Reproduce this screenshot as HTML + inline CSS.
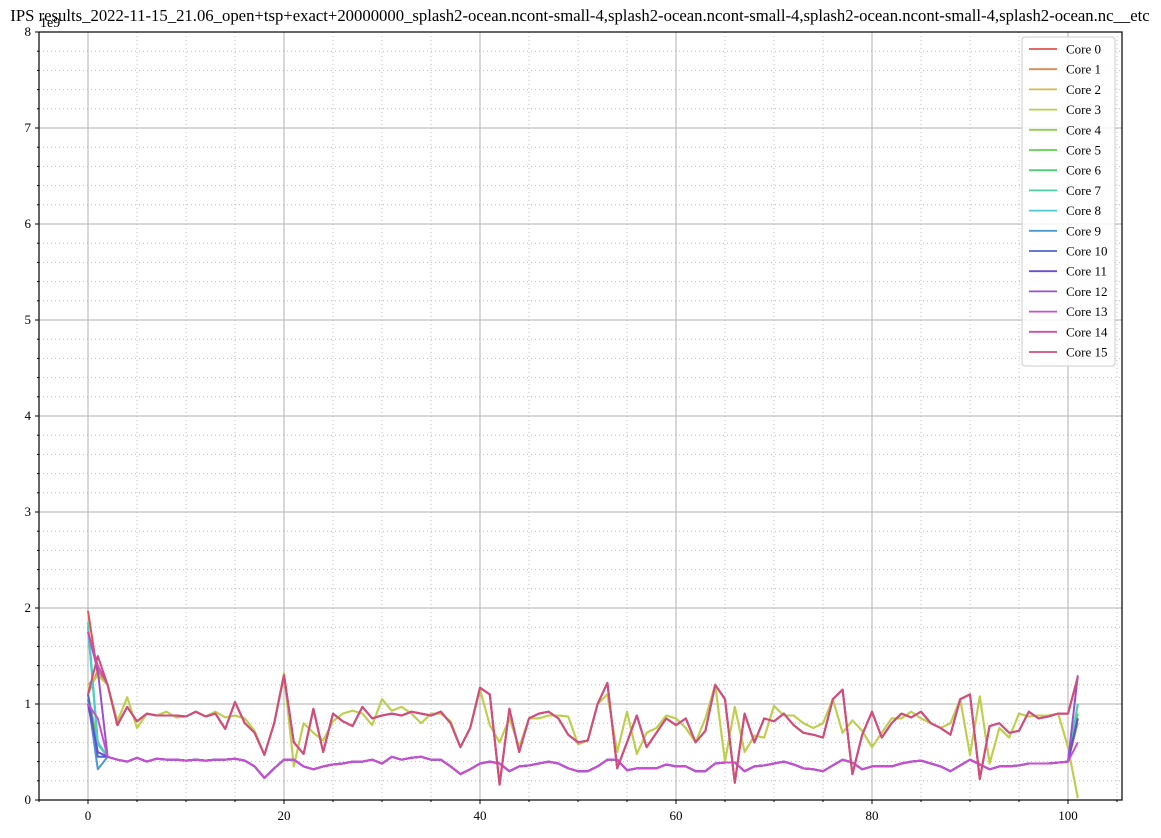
<!DOCTYPE html>
<html><head><meta charset="utf-8"><style>
body{margin:0;background:#fff;}
svg text{font-family:"Liberation Serif",serif;}
</style></head><body>
<svg id="chart" width="1161" height="833" xmlns="http://www.w3.org/2000/svg">
<rect width="1161" height="833" fill="#fff"/>
<text x="580" y="21" font-size="16.7" text-anchor="middle">IPS results_2022-11-15_21.06_open+tsp+exact+20000000_splash2-ocean.ncont-small-4,splash2-ocean.ncont-small-4,splash2-ocean.ncont-small-4,splash2-ocean.nc__etc</text>
<text x="40" y="27" font-size="14">1e9</text>
<g id="grid"></g><g id="series"></g><g id="axes"></g><g id="legend"></g>
</svg>
<script>
const xTicks=[0,20,40,60,80,100];
const yTicks=[0,1,2,3,4,5,6,7,8];
const coreNames=["Core 0","Core 1","Core 2","Core 3","Core 4","Core 5","Core 6","Core 7","Core 8","Core 9","Core 10","Core 11","Core 12","Core 13","Core 14","Core 15"];
const upperRed=[1.95,1.35,1.2,0.78,0.97,0.82,0.9,0.88,0.88,0.88,0.87,0.92,0.87,0.9,0.74,1.02,0.8,0.7,0.47,0.8,1.3,0.6,0.48,0.95,0.5,0.9,0.82,0.77,0.97,0.85,0.88,0.9,0.88,0.92,0.9,0.88,0.92,0.8,0.55,0.75,1.17,1.1,0.16,0.95,0.5,0.85,0.9,0.92,0.85,0.68,0.6,0.62,1.0,1.22,0.33,0.6,0.88,0.55,0.7,0.85,0.78,0.85,0.6,0.72,1.2,1.05,0.18,0.9,0.6,0.85,0.82,0.9,0.78,0.7,0.68,0.65,1.05,1.15,0.27,0.68,0.92,0.65,0.8,0.9,0.86,0.92,0.8,0.75,0.68,1.05,1.1,0.22,0.77,0.8,0.7,0.72,0.92,0.85,0.87,0.9,0.9,1.28];
const upperYellow=[1.2,1.3,1.2,0.82,1.07,0.75,0.9,0.88,0.92,0.86,0.87,0.92,0.87,0.92,0.86,0.88,0.85,0.72,0.47,0.8,1.32,0.35,0.8,0.7,0.62,0.82,0.9,0.93,0.9,0.78,1.05,0.93,0.97,0.9,0.8,0.9,0.9,0.82,0.55,0.75,1.15,0.78,0.6,0.85,0.55,0.85,0.85,0.88,0.88,0.87,0.58,0.62,1.0,1.1,0.5,0.92,0.48,0.7,0.75,0.88,0.85,0.75,0.6,0.85,1.2,0.4,0.97,0.5,0.67,0.65,0.98,0.88,0.88,0.8,0.75,0.8,1.05,0.7,0.83,0.72,0.55,0.7,0.85,0.85,0.92,0.85,0.8,0.75,0.8,1.05,0.47,1.08,0.38,0.75,0.65,0.9,0.87,0.88,0.88,0.9,0.55,0.02];
const lower=[1.0,0.55,0.45,0.42,0.4,0.44,0.4,0.43,0.42,0.42,0.41,0.42,0.41,0.42,0.42,0.43,0.41,0.35,0.23,0.33,0.42,0.42,0.35,0.32,0.35,0.37,0.38,0.4,0.4,0.42,0.38,0.45,0.42,0.44,0.45,0.42,0.42,0.35,0.27,0.32,0.38,0.4,0.38,0.3,0.35,0.36,0.38,0.4,0.38,0.33,0.3,0.3,0.35,0.42,0.42,0.31,0.33,0.33,0.33,0.37,0.35,0.35,0.3,0.3,0.38,0.39,0.39,0.3,0.35,0.36,0.38,0.4,0.37,0.33,0.32,0.3,0.36,0.42,0.39,0.32,0.35,0.35,0.35,0.38,0.4,0.41,0.38,0.35,0.3,0.36,0.42,0.37,0.32,0.35,0.35,0.36,0.38,0.38,0.38,0.39,0.4,0.6];
const coreGroup=["red","red","yellow","yellow","low","low","low","low","low","low","low","low","low","low","red","red"];
const firstValues=[1.97,1.1,1.2,1.15,1.05,1.1,1.8,1.85,1.8,1.05,1.1,1.0,1.75,1.0,1.75,1.1];
const secondValues=[1.3,1.35,1.3,1.3,0.6,0.6,0.6,0.6,0.58,0.32,0.45,0.5,1.35,0.85,1.4,1.5];
const lastValues=[1.28,1.28,0.02,0.02,0.8,0.9,1.0,1.0,0.85,0.85,0.85,0.85,1.3,0.6,1.28,1.28];
const colors=["#e0544f","#d98a4e","#d4b94e","#bcd04e","#8fd04e","#5ed04e","#4ed074","#4ed0a6","#4ecad0","#4e98d0","#4e66d0","#6a4ed0","#9a4ed0","#cb4ed0","#d04eac","#d04e7b"];
const L=39,R=1122,T=32,B=800;
const X=v=>88+v*9.8, Y=v=>B-v*96;
const NS="http://www.w3.org/2000/svg";
function mk(tag,attrs,parent){const e=document.createElementNS(NS,tag);for(const k in attrs)e.setAttribute(k,attrs[k]);parent.appendChild(e);return e;}
const grid=document.getElementById('grid'),axes=document.getElementById('axes'),ser=document.getElementById('series'),leg=document.getElementById('legend');
for(let v=0;v<=8;v+=0.2){const y=Y(v);if(Math.abs(v-Math.round(v))<1e-6)continue;
const g=mk('line',{x1:L,x2:R,y1:y,y2:y,stroke:'#b0b0b0','stroke-width':0.8,'stroke-dasharray':'1,3'},grid);

mk('line',{x1:L-2,x2:L,y1:y,y2:y,stroke:'#000'},axes);}
for(let v=-5;v<=105;v+=5){if(v%20===0)continue;const x=X(v);
const g=mk('line',{x1:x,x2:x,y1:T,y2:B,stroke:'#b0b0b0','stroke-width':0.8,'stroke-dasharray':'1,3'},grid);

mk('line',{x1:x,x2:x,y1:B,y2:B+2,stroke:'#000'},axes);}
yTicks.forEach(v=>{const y=Y(v);
const g=mk('line',{x1:L,x2:R,y1:y,y2:y,stroke:'#b0b0b0','stroke-width':1},grid);

mk('line',{x1:L-4,x2:L,y1:y,y2:y,stroke:'#000'},axes);
const t=mk('text',{x:L-8,y:y+4,'font-size':13,'text-anchor':'end'},axes);t.textContent=v;
});
xTicks.forEach(v=>{const x=X(v);
const g=mk('line',{x1:x,x2:x,y1:T,y2:B,stroke:'#b0b0b0','stroke-width':1},grid);

mk('line',{x1:x,x2:x,y1:B,y2:B+4,stroke:'#000'},axes);
const t=mk('text',{x:x,y:B+20,'font-size':13,'text-anchor':'middle'},axes);t.textContent=v;
});
const frame=mk('rect',{x:L,y:T,width:R-L,height:B-T,fill:'none',stroke:'#000','stroke-width':1.2},axes);

coreNames.forEach((n,i)=>{
const base=coreGroup[i]==="red"?upperRed:coreGroup[i]==="yellow"?upperYellow:lower;
const vals=base.slice();vals[0]=firstValues[i];vals[1]=secondValues[i];vals[vals.length-1]=lastValues[i];
const p=mk('polyline',{points:vals.map((v,k)=>X(k)+','+Y(v)).join(' '),fill:'none',stroke:colors[i],'stroke-width':2,'stroke-linejoin':'round'},ser);
});
const box=mk('rect',{x:1022,y:37,width:93,height:329,fill:'#fff','fill-opacity':0.85,stroke:'#ccc',rx:3},leg);

coreNames.forEach((n,i)=>{const y=49+i*20.2;
const l=mk('line',{x1:1029,x2:1057,y1:y,y2:y,stroke:colors[i],'stroke-width':1.8},leg);

const t=mk('text',{x:1066,y:y+4.5,'font-size':13},leg);t.textContent=n;
});
</script>
</body></html>
